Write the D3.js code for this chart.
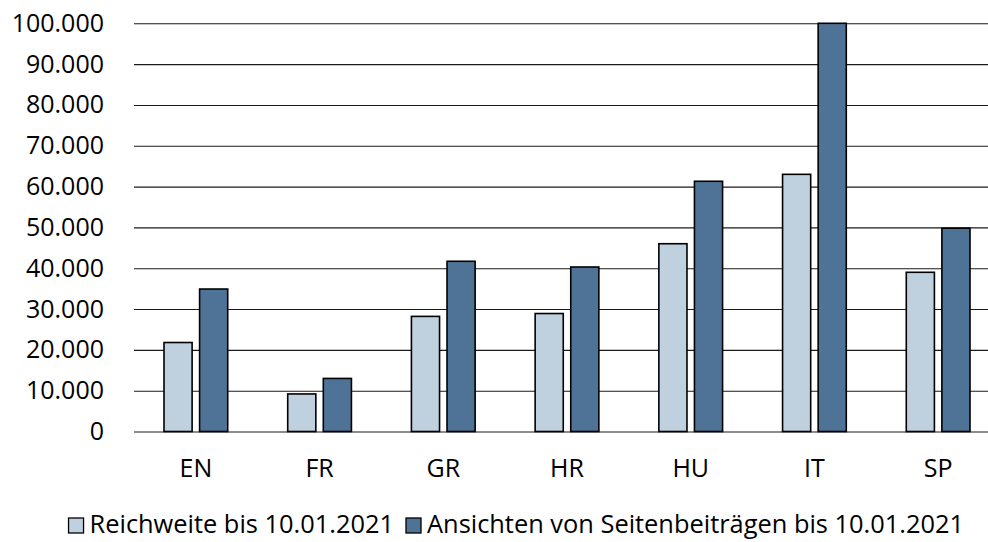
<!DOCTYPE html>
<html>
<head>
<meta charset="utf-8">
<script src="https://cdn.jsdelivr.net/npm/d3@7"></script>
<style>
  body { margin: 0; background: #fff; }
  text { font-family: "Open Sans", sans-serif; fill: #000; }
</style>
</head>
<body>
<script>
var width = 988,
    height = 542

// data
var categories = ["EN", "FR", "GR", "HR", "HU", "IT", "SP"]
var seriesNames = ["Reichweite bis 10.01.2021", "Ansichten von Seitenbeiträgen bis 10.01.2021"]
var reichweite = [21800, 9200, 28200, 28900, 46000, 63000, 39000]
var ansichten = [34900, 13000, 41700, 40300, 61300, 100000, 49800]
var yTicks = [0, 10000, 20000, 30000, 40000, 50000, 60000, 70000, 80000, 90000, 100000]

var colors = ["#bfd1df", "#4e7396"]

var svg = d3.select("body").append("svg")
    .attr("width", width)
    .attr("height", height)

var x0 = d3.scaleBand()
    .domain(categories)
    .range([134, 1000])
    .paddingInner(0.485)
    .paddingOuter(0.2425)

var x1 = d3.scaleBand()
    .domain([0, 1])
    .range([0, x0.bandwidth()])
    .paddingInner(0.21)

var y = d3.scaleLinear()
    .domain([0, 100000])
    .range([431.5, 23.3])

var fmt = function(d) { return d3.format(",")(d).replace(/,/g, ".") }

// gridlines + y labels
var yAxis = svg.append("g")
    .attr("transform", "translate(134,0)")
    .call(d3.axisLeft(y).tickValues(yTicks).tickFormat(fmt)
          .tickSize(-(width - 134)).tickPadding(30))
yAxis.select(".domain").remove()
yAxis.selectAll(".tick line").attr("stroke", "#1a1a1a").attr("stroke-width", 1.1)
yAxis.selectAll(".tick text")
    .style("font-family", "'Open Sans', sans-serif")
    .style("font-size", "25px")
    .attr("fill", "#000")

// bars
var rows = categories.map(function(c, i) {
    return {cat: c, vals: [reichweite[i], ansichten[i]]}
})

var groups = svg.selectAll(".grp").data(rows)
    .enter().append("g")
    .attr("class", "grp")
    .attr("transform", function(d) { return "translate(" + x0(d.cat) + ",0)" })

groups.selectAll("rect")
    .data(function(d) { return d.vals.map(function(v, k) { return {k: k, v: v} }) })
    .enter().append("rect")
    .attr("x", function(d) { return x1(d.k) })
    .attr("width", x1.bandwidth())
    .attr("y", function(d) { return y(d.v) })
    .attr("height", function(d) { return y(0) - y(d.v) })
    .attr("fill", function(d) { return colors[d.k] })
    .attr("stroke", "#000")
    .attr("stroke-width", 1.6)

// category labels
var xAxis = svg.append("g")
    .attr("transform", "translate(0," + y(0) + ")")
    .call(d3.axisBottom(x0).tickSize(0).tickPadding(28))
xAxis.select(".domain").remove()
xAxis.selectAll(".tick text")
    .style("font-family", "'Open Sans', sans-serif")
    .style("font-size", "25px")
    .attr("fill", "#000")

// legend
var legend = svg.append("g").attr("class", "legend")
var items = legend.selectAll(".item").data(seriesNames)
    .enter().append("g").attr("class", "item")

items.append("rect")
    .attr("width", 15)
    .attr("height", 15)
    .attr("fill", function(d, i) { return colors[i] })
    .attr("stroke", "#000")
    .attr("stroke-width", 1.3)

items.append("text")
    .attr("x", 21)
    .attr("y", 15)
    .style("font-size", "25.4px")
    .text(function(d) { return d })

// place items: second box anchored, first item ends just before it
var lens = []
items.selectAll("text").each(function() { lens.push(this.getComputedTextLength()) })
var box2 = 406
var box1 = box2 - 12 - lens[0] - 21
items.attr("transform", function(d, i) {
    return "translate(" + (i === 0 ? box1 : box2) + ",518)"
})
</script>
</body>
</html>
